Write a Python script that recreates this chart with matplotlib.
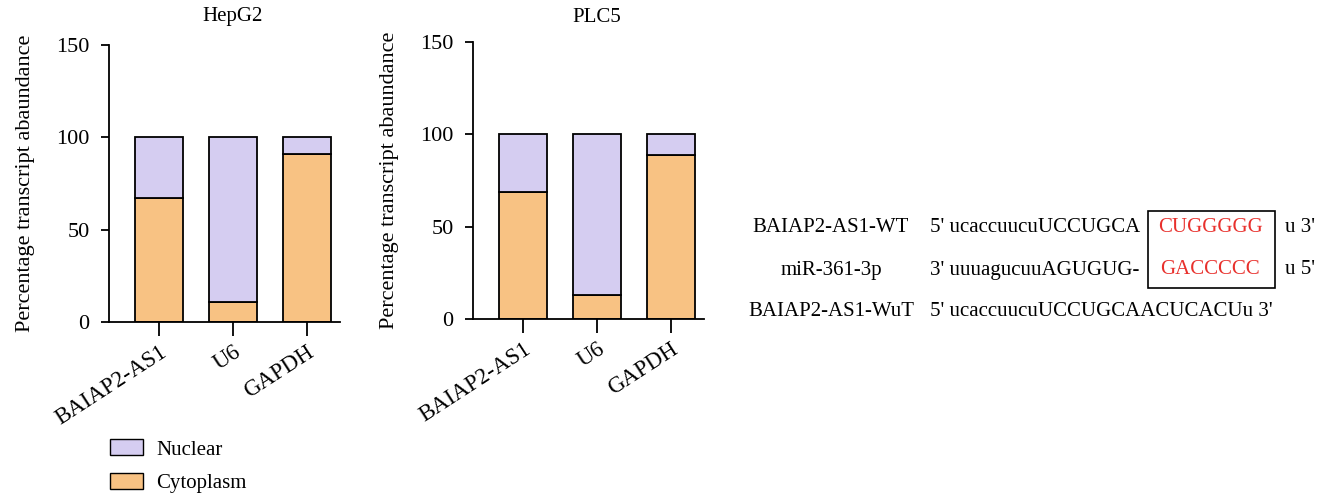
import matplotlib
matplotlib.use("Agg")
import matplotlib.pyplot as plt
from matplotlib.patches import Rectangle, Patch

plt.rcParams['font.family'] = ['Liberation Serif', 'DejaVu Serif']

genes = ["BAIAP2-AS1", "U6", "GAPDH"]
hepg2_cyto = [67, 11, 91]
plc5_cyto = [69, 13, 89]
total = [100, 100, 100]
yticks = [0, 50, 100, 150]

nuc_color = "#D5CDF1"
cyto_color = "#F8C283"

W, H = 1332, 496
fig = plt.figure(figsize=(W / 100, H / 100), dpi=100)


def px_axes(x0, y_top, x1, y_bot):
    return fig.add_axes([x0 / W, 1 - y_bot / H, (x1 - x0) / W, (y_bot - y_top) / H])


def draw_panel(ax, cyto, title):
    nuc = [t - c for t, c in zip(total, cyto)]
    x = range(len(genes))
    ax.bar(x, cyto, width=0.65, color=cyto_color, edgecolor="black", linewidth=1.3, zorder=2)
    ax.bar(x, nuc, bottom=cyto, width=0.65, color=nuc_color, edgecolor="black", linewidth=1.3, zorder=2)
    ax.set_xlim(-0.68, 2.45)
    ax.set_ylim(0, 150)
    ax.set_yticks(yticks)
    ax.set_xticks(list(x))
    ax.set_xticklabels(genes, rotation=33, ha="right", rotation_mode="anchor", fontsize=16.5)
    ax.tick_params(axis="y", length=6, width=1.3, labelsize=16, pad=8)
    ax.tick_params(axis="x", length=10, width=1.3, pad=4)
    for s in ["top", "right"]:
        ax.spines[s].set_visible(False)
    for s in ["left", "bottom"]:
        ax.spines[s].set_linewidth(1.3)
    ax.set_ylabel("Percentage transcript abaundance", fontsize=16, labelpad=15)
    # title centred over the bars, at a fixed height in the figure
    bb = ax.get_position()
    cx = bb.x0 + bb.width * (1 + 0.68) / (2.45 + 0.68)
    fig.text(cx, 1 - 17 / H, title, ha="center", va="center", fontsize=15)


ax1 = px_axes(109, 45, 340, 322)
draw_panel(ax1, hepg2_cyto, "HepG2")
ax2 = px_axes(473, 42, 704, 319)
draw_panel(ax2, plc5_cyto, "PLC5")

# legend
handles = [Patch(facecolor=nuc_color, edgecolor="black", linewidth=1.0, label="Nuclear"),
           Patch(facecolor=cyto_color, edgecolor="black", linewidth=1.0, label="Cytoplasm")]
fig.legend(handles=handles, loc="upper left", bbox_to_anchor=(102 / W, 1 - 431 / H),
           frameon=False, fontsize=15, handlelength=1.55, handleheight=0.8,
           labelspacing=0.65, handletextpad=0.65, borderaxespad=0)

# sequence alignment
fs = 15
rows_y = [228, 270, 312]
names = ["BAIAP2-AS1-WT", "miR-361-3p", "BAIAP2-AS1-WuT"]
left_seqs = ["5' ucaccuucuUCCUGCA", "3' uuuagucuuAGUGUG-", "5' ucaccuucuUCCUGCAACUCACUu 3'"]
red_seqs = ["CUGGGGG", "GACCCCC"]
right_seqs = ["u 3'", "u 5'"]
for i, y in enumerate(rows_y):
    fy = 1 - y / H
    fig.text(831 / W, fy, names[i], ha="center", va="center", fontsize=fs)
    fig.text(930 / W, fy, left_seqs[i], ha="left", va="center", fontsize=fs)
    if i < 2:
        fig.text((1158 + 2 * i) / W, fy, red_seqs[i], ha="left", va="center", fontsize=fs, color="#E8302C")
        fig.text(1285 / W, fy, right_seqs[i], ha="left", va="center", fontsize=fs)

fig.patches.append(Rectangle((1148 / W, 1 - 288 / H), 127 / W, 77 / H, transform=fig.transFigure,
                             fill=False, edgecolor="black", linewidth=1.2))

fig.savefig("out.png", dpi=100)
